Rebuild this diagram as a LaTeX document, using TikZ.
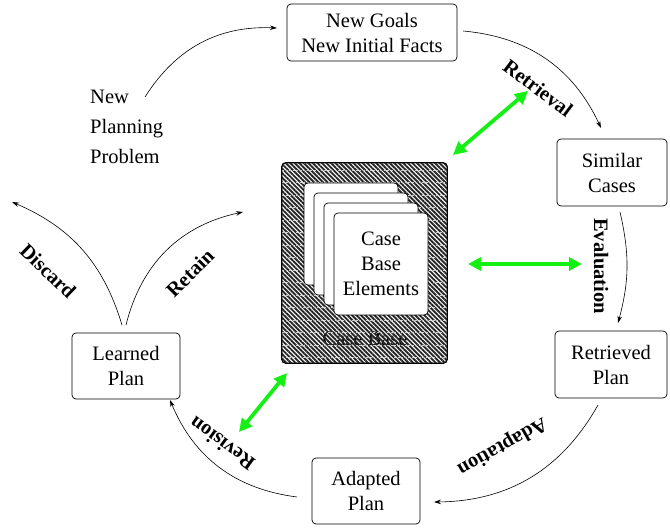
\documentclass[tikz,border=0pt]{standalone}
\usepackage{fontspec}
\setmainfont{Liberation Serif}
\usetikzlibrary{arrows.meta,patterns.meta}
\tikzset{
  box/.style={draw, rounded corners=4pt, line width=0.7pt, align=center, inner sep=0pt, fill=white},
  lbl/.style={font=\fontsize{20.5}{25}\selectfont\bfseries, inner sep=0pt},
  flow/.style={-{Stealth[length=7pt,width=4.5pt]}, line width=0.6pt},
  gflow/.style={{Triangle[length=13pt,width=13pt]}-{Triangle[length=13pt,width=13pt]}, line width=3.8pt, draw={rgb,255:red,20;green,240;blue,20}},
  card/.style={draw, rounded corners=4pt, line width=0.7pt, fill=white, minimum width=94pt, minimum height=102pt, inner sep=0pt, align=center}
}
\begin{document}
\begin{tikzpicture}[x=1pt,y=1pt,font=\fontsize{20.5}{25}\selectfont]
\useasboundingbox (0,0) rectangle (670,-529);
% boxes
\node[box, minimum width=170pt, minimum height=57pt] (ng) at (372,-32.5) {New Goals\\New Initial Facts};
\node[box, minimum width=110pt, minimum height=67pt] (sc) at (612,-172.5) {Similar\\Cases};
\node[box, minimum width=112pt, minimum height=67pt] (rp) at (611,-364.5) {Retrieved\\Plan};
\node[box, minimum width=108pt, minimum height=66pt] (ap) at (366,-491) {Adapted\\Plan};
\node[box, minimum width=108pt, minimum height=66pt] (lp) at (126,-366) {Learned\\Plan};
\node[anchor=west, inner sep=0pt, align=left, font=\fontsize{20.5}{30}\selectfont] (np) at (90,-127) {New\\Planning\\Problem};
% case base
\node[draw, rounded corners=4pt, line width=0.8pt, minimum width=165pt, minimum height=200pt, inner sep=0pt, fill=white] (cb) at (364.5,-263) {};
\node[inner sep=0pt] (cbl) at (365,-339) {Case Base};
\fill[rounded corners=4pt, pattern={Lines[angle=-45,distance=3.2pt,line width=1.9pt]}, pattern color=black!85] (cb.south west) rectangle (cb.north east);
\begin{scope}
\clip[rounded corners=4pt] (cb.south west) rectangle (cb.north east);
\foreach \yy in {170,182.5,...,362} \draw[white!80!black, line width=0.9pt, dash pattern=on 2pt off 1.5pt] (282,-\yy) -- (448,-\yy);
\end{scope}
\draw[rounded corners=4pt, line width=0.8pt] (cb.south west) rectangle (cb.north east);
\node[card] (c1) at (351,-234) {};
\node[card] (c2) at (361,-244) {};
\node[card] (c3) at (371,-254) {};
\node[card] (c4) at (381,-264) {Case\\Base\\Elements};
% cycle arrows
\coordinate (npA) at (145,-97);
\coordinate (ngB) at (277,-28);
\draw[flow] (npA) to[bend left=30] (ngB);
\coordinate (ngA) at (463,-31);
\coordinate (scB) at (601,-128);
\draw[flow] (ngA) to[bend left=30] (scB);
\coordinate (scA) at (620,-212);
\coordinate (rpB) at (618,-323);
\draw[flow] (scA) to[bend left=14] (rpB);
\coordinate (rpA) at (598,-405);
\coordinate (apB) at (434,-502);
\draw[flow] (rpA) to[bend left=30] (apB);
\coordinate (apA) at (297,-497);
\coordinate (lpB) at (170,-400);
\draw[flow] (apA) to[bend left=30] (lpB);
\coordinate (lpA) at (122,-325);
\coordinate (dis) at (12,-202);
\draw[flow] (lpA) to[bend right=25] (dis);
\coordinate (lpC) at (126,-325);
\coordinate (ret) at (243,-212);
\draw[flow] (lpC) to[bend left=32] (ret);
% labels
\node[lbl, rotate=-37] (lret) at (538,-88) {Retrieval};
\node[lbl, rotate=-90] (leva) at (601,-266) {Evaluation};
\node[lbl, rotate=209.5] (lada) at (502,-446) {Adaptation};
\node[lbl, rotate=144] (lrev) at (222,-444) {Revision};
\node[lbl, rotate=-44] (ldis) at (48,-271) {Discard};
\node[lbl, rotate=45] (lrtn) at (190,-273) {Retain};
% green arrows
\coordinate (g1a) at (453,-155);
\coordinate (g1b) at (528,-91);
\draw[gflow] (g1a) -- (g1b);
\coordinate (g2a) at (468,-264);
\coordinate (g2b) at (582,-264);
\draw[gflow] (g2a) -- (g2b);
\coordinate (g3a) at (239,-432);
\coordinate (g3b) at (287,-373);
\draw[gflow] (g3a) -- (g3b);
\end{tikzpicture}
\end{document}
